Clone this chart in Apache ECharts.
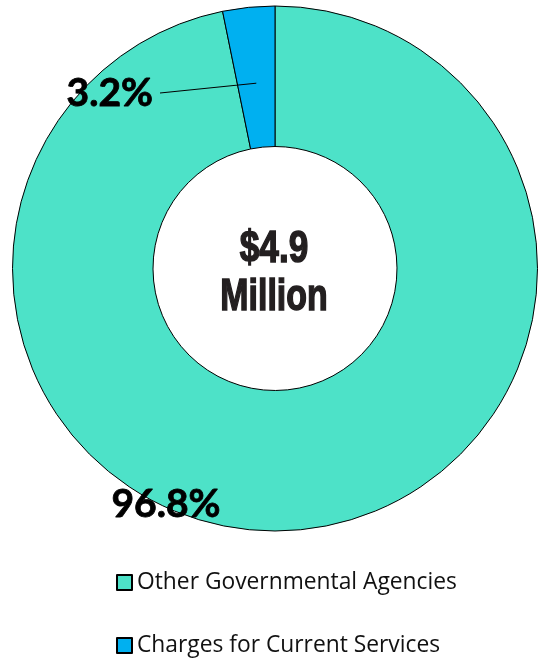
<!DOCTYPE html>
<html>
<head>
<meta charset="utf-8">
<script src="https://cdn.jsdelivr.net/npm/echarts@6/dist/echarts.min.js"></script>
<style>
  html, body { margin: 0; padding: 0; background: #ffffff; }
  #chart { width: 539px; height: 658px; }
</style>
</head>
<body>
<div id="chart"></div>
<script>
// Revenue sources (percent of total)
const categories = ['Other Governmental Agencies', 'Charges for Current Services'];
const shares = [96.8, 3.2];
const colors = ['#4DE2C8', '#00B0F0'];
const totalLine1 = '$4.9';
const totalLine2 = 'Million';

const CENTER = [275, 268.5];
const RADIUS = [122, 262.5];

// where the two percentage labels sit
const SMALL_LABEL_ANCHOR = [153, 93];   // right edge / middle of "3.2%"
const BIG_LABEL_ANCHOR = [166, 504];    // centre of "96.8%"

const chart = echarts.init(document.getElementById('chart'), null, { renderer: 'canvas' });

const sum = shares.reduce((a, b) => a + b, 0);
// mid angle (degrees clockwise from 12 o'clock) of each slice
function midAngle(i) {
  let before = 0;
  for (let k = 0; k < i; k++) before += shares[k];
  return (before + shares[i] / 2) / sum * 360;
}

// leader line: from the middle of the small slice to the label
const a1 = midAngle(1) * Math.PI / 180;
const rMid = (RADIUS[0] + RADIUS[1]) / 2 - 6;
const leaderStart = [CENTER[0] + rMid * Math.sin(a1), CENTER[1] - rMid * Math.cos(a1)];
const leaderEnd = [SMALL_LABEL_ANCHOR[0] + 7, SMALL_LABEL_ANCHOR[1]];

const data = categories.map((name, i) => ({
  name: name,
  value: shares[i],
  itemStyle: { color: colors[i] }
}));

const pctStyle = {
  fontFamily: 'Lato',
  fontWeight: 'bold',
  fontSize: 39,
  color: '#000000',
  textBorderColor: '#000000',
  textBorderWidth: 0.8
};

const centerFont = 'bold 44px "Liberation Sans"';

const legendText = {
  fontFamily: 'Open Sans',
  fontSize: 22.8,
  color: '#111111'
};

function legendFor(i, top) {
  return {
    orient: 'vertical',
    left: 116,
    top: top,
    padding: 0,
    itemWidth: 15,
    itemHeight: 15,
    icon: 'rect',
    selectedMode: false,
    data: [categories[i]],
    textStyle: legendText
  };
}

const option = {
  backgroundColor: '#ffffff',
  animation: false,
  legend: [legendFor(0, 571), legendFor(1, 634)],
  graphic: [
    {
      type: 'polyline',
      z: 20,
      shape: { points: [leaderStart, leaderEnd] },
      style: { stroke: '#000000', lineWidth: 1, fill: null }
    },
    {
      type: 'text',
      x: 274,
      y: 250,
      scaleX: 0.8,
      z: 10,
      style: {
        text: totalLine1,
        font: centerFont,
        fill: '#231F20',
        stroke: '#231F20',
        lineWidth: 1.5,
        align: 'center',
        verticalAlign: 'middle'
      }
    },
    {
      type: 'text',
      x: 274,
      y: 298,
      scaleX: 0.77,
      z: 10,
      style: {
        text: totalLine2,
        font: centerFont,
        fill: '#231F20',
        stroke: '#231F20',
        lineWidth: 1.5,
        align: 'center',
        verticalAlign: 'middle'
      }
    }
  ],
  series: [
    {
      type: 'pie',
      center: CENTER,
      radius: RADIUS,
      startAngle: 90,
      clockwise: true,
      avoidLabelOverlap: false,
      data: data,
      itemStyle: { borderColor: '#000000', borderWidth: 1 },
      emphasis: { disabled: true },
      label: Object.assign({
        show: true,
        position: 'outside',
        formatter: (p) => p.value.toFixed(1) + '%'
      }, pctStyle),
      labelLine: { show: false },
      labelLayout: function (p) {
        if (p.dataIndex === 1) {
          return {
            x: SMALL_LABEL_ANCHOR[0], y: SMALL_LABEL_ANCHOR[1],
            align: 'right',
            verticalAlign: 'middle'
          };
        }
        return {
          x: BIG_LABEL_ANCHOR[0], y: BIG_LABEL_ANCHOR[1],
          align: 'center',
          verticalAlign: 'middle'
        };
      }
    }
  ]
};

chart.setOption(option);
</script>
</body>
</html>
